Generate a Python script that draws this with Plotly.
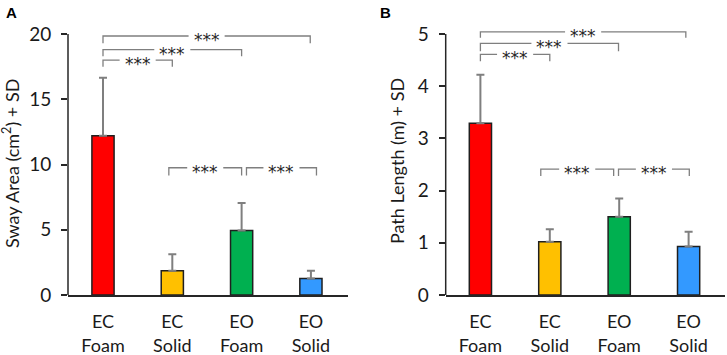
import plotly.graph_objects as go

categories = ["EC<br>Foam", "EC<br>Solid", "EO<br>Foam", "EO<br>Solid"]
bar_colors = ["#FF0000", "#FFC000", "#00B050", "#3399FF"]

sway_mean = [12.2, 1.85, 4.95, 1.27]
sway_sd = [4.45, 1.28, 2.1, 0.58]

path_mean = [3.29, 1.02, 1.50, 0.93]
path_sd = [0.93, 0.24, 0.35, 0.28]

# significance brackets: (x_left, x_right, y_line, drop, label)
sway_brackets = [
    (0.0, 2.99, 19.85, 0.55, "***"),
    (0.0, 2.0, 18.8, 0.5, "***"),
    (0.0, 1.0, 18.0, 0.5, "***"),
    (0.95, 2.0, 9.75, 0.6, "***"),
    (2.07, 3.08, 9.75, 0.6, "***"),
]
path_brackets = [
    (0.0, 2.96, 5.04, 0.11, "***"),
    (0.0, 1.99, 4.82, 0.15, "***"),
    (0.0, 1.0, 4.61, 0.13, "***"),
    (0.87, 1.92, 2.41, 0.13, "***"),
    (1.99, 3.01, 2.41, 0.13, "***"),
]

FONT = "Lato, 'Open Sans', sans-serif"
STARFONT = "DejaVu Sans"
AX = "#262626"
GRAY = "#7F7F7F"
GAP = 0.52  # gap in bracket line around the stars (x units)

fig = go.Figure()
xpos = list(range(len(categories)))

for means, sds, xa, ya in [(sway_mean, sway_sd, "x", "y"), (path_mean, path_sd, "x2", "y2")]:
    fig.add_trace(go.Bar(
        x=xpos, y=means, width=0.32, xaxis=xa, yaxis=ya,
        marker=dict(color=bar_colors, line=dict(color="#1F1F1F", width=1.5)),
        error_y=dict(type="data", symmetric=False, array=sds, arrayminus=[0] * len(sds),
                     color=GRAY, thickness=2, width=4),
        showlegend=False, hoverinfo="skip",
    ))

shapes = []
annotations = []

def add_brackets(brackets, xr, yr):
    for (x0, x1, y, d, lab) in brackets:
        m = (x0 + x1) / 2
        shapes.append(dict(type="path", xref=xr, yref=yr,
                           path=f"M {x0},{y - d} L {x0},{y} L {m - GAP / 2},{y}",
                           line=dict(color=GRAY, width=1.3)))
        shapes.append(dict(type="path", xref=xr, yref=yr,
                           path=f"M {m + GAP / 2},{y} L {x1},{y} L {x1},{y - d}",
                           line=dict(color=GRAY, width=1.3)))
        annotations.append(dict(x=m, y=y, xref=xr, yref=yr, text=lab,
                                showarrow=False, xanchor="center", yanchor="middle",
                                font=dict(family=STARFONT, size=17, color="#262626"),
                                yshift=-4))

add_brackets(sway_brackets, "x", "y")
add_brackets(path_brackets, "x2", "y2")

# y axis lines up to the top tick
shapes.append(dict(type="line", xref="x domain", yref="y", x0=0, x1=0, y0=0, y1=20,
                   line=dict(color=AX, width=1.5)))
shapes.append(dict(type="line", xref="x2 domain", yref="y2", x0=0, x1=0, y0=0, y1=5,
                   line=dict(color=AX, width=1.5)))

annotations += [
    dict(x=11 / 727, y=(355 - 164) / 355, xref="paper", yref="paper", text="Sway Area (cm<sup>2</sup>) + SD",
         textangle=-90, showarrow=False, xanchor="center", yanchor="middle",
         font=dict(family=FONT, size=18, color="#1A1A1A")),
    dict(x=397 / 727, y=(355 - 161) / 355, xref="paper", yref="paper", text="Path Length (m) + SD",
         textangle=-90, showarrow=False, xanchor="center", yanchor="middle",
         font=dict(family=FONT, size=18, color="#1A1A1A")),
    dict(x=4 / 727, y=1 - 13 / 355, xref="paper", yref="paper", text="<b>A</b>", showarrow=False,
         xanchor="left", yanchor="middle", font=dict(family="Liberation Sans, Arial", size=15, color="black")),
    dict(x=378 / 727, y=1 - 13 / 355, xref="paper", yref="paper", text="<b>B</b>", showarrow=False,
         xanchor="left", yanchor="middle", font=dict(family="Liberation Sans, Arial", size=15, color="black")),
]

ydom = [60 / 355, (355 - 27.5) / 355]
xcommon = dict(tickmode="array", tickvals=xpos, ticktext=categories, showline=True, linecolor=AX,
               linewidth=1.5, ticks="", showgrid=False, zeroline=False, ticklabelstandoff=10,
               tickfont=dict(family=FONT, size=18, color="#1A1A1A"), fixedrange=True,
               automargin=False)
ycommon = dict(showline=False, ticks="outside", ticklen=6, tickcolor=AX, tickwidth=1.5,
               showgrid=False, zeroline=False, tickfont=dict(family=FONT, size=19, color="#1A1A1A"),
               ticklabelstandoff=6, fixedrange=True, automargin=False)

fig.update_layout(
    width=727, height=355, margin=dict(l=0, r=0, t=0, b=0, autoexpand=False),
    paper_bgcolor="white", plot_bgcolor="white",
    xaxis=dict(domain=[68 / 727, 348 / 727], range=[-0.505, 3.535], anchor="y", **xcommon),
    yaxis=dict(domain=ydom, range=[0, 20.5], tickvals=[0, 5, 10, 15, 20], anchor="x", **ycommon),
    xaxis2=dict(domain=[445.7 / 727, 724.7 / 727], range=[-0.5, 3.52], anchor="y2", **xcommon),
    yaxis2=dict(domain=ydom, range=[0, 5.125], tickvals=[0, 1, 2, 3, 4, 5], anchor="x2", **ycommon),
    shapes=shapes, annotations=annotations, bargap=0.5,
)

fig.write_html("out.html", config={"displayModeBar": False},
               post_script="document.body.style.margin='0';document.body.style.overflow='hidden';")
